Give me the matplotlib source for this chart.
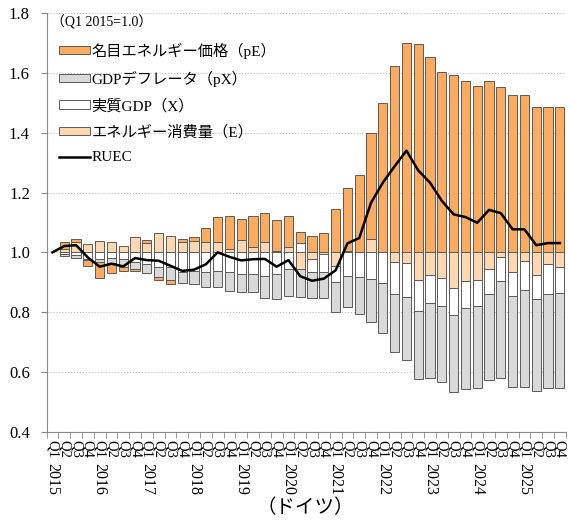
import numpy as np
import matplotlib
matplotlib.use("Agg")
import matplotlib.pyplot as plt
from matplotlib.patches import Patch
from matplotlib.lines import Line2D

plt.rcParams['font.family'] = ['Liberation Serif', 'Noto Sans CJK JP']

# quarters Q1 2015 .. Q4 2025
years = list(range(2015, 2026))
quarter_labels = ['Q1', 'Q2', 'Q3', 'Q4'] * len(years)

# contributions (deviation from 1.0)
p_energy = [0.000, 0.025, 0.009, -0.019, -0.053, -0.034, -0.014, -0.008,
            0.011, -0.011, -0.013, 0.009, 0.013, 0.048, 0.085, 0.110,
            0.070, 0.104, 0.096, 0.102, 0.103, 0.035, 0.056, 0.066,
            0.144, 0.211, 0.257, 0.356, 0.500, 0.622, 0.700, 0.696,
            0.652, 0.603, 0.594, 0.574, 0.555, 0.572, 0.552, 0.527,
            0.527, 0.486, 0.486, 0.486]
p_gdp = [0.000, -0.007, -0.010, -0.003, -0.011, -0.016, -0.028, -0.025,
         -0.030, -0.031, -0.042, -0.037, -0.045, -0.050, -0.052, -0.061,
         -0.058, -0.061, -0.075, -0.083, -0.091, -0.092, -0.084, -0.088,
         -0.102, -0.104, -0.125, -0.145, -0.170, -0.195, -0.212, -0.228,
         -0.249, -0.253, -0.259, -0.271, -0.275, -0.289, -0.322, -0.305,
         -0.325, -0.307, -0.315, -0.320]
real_gdp = [0.000, -0.005, -0.009, -0.022, -0.022, -0.020, -0.022, -0.031,
            -0.039, -0.050, -0.050, -0.067, -0.062, -0.067, -0.063, -0.067,
            -0.073, -0.073, -0.078, -0.073, -0.056, 0.032, -0.046, -0.060,
            -0.053, -0.078, -0.081, -0.089, -0.101, -0.107, -0.111, -0.102,
            -0.095, -0.094, -0.089, -0.088, -0.085, -0.082, -0.080, -0.080,
            -0.095, -0.080, -0.100, -0.085]
energy_use = [0.000, 0.010, 0.035, 0.027, 0.038, 0.035, 0.020, 0.050,
              0.031, 0.066, 0.055, 0.035, 0.039, 0.033, 0.033, 0.010,
              0.040, 0.018, 0.036, 0.005, 0.018, -0.056, -0.021, -0.005,
              -0.045, 0.003, 0.000, 0.044, 0.000, -0.032, -0.037, -0.093,
              -0.076, -0.087, -0.119, -0.097, -0.093, -0.057, -0.017, -0.065,
              -0.030, -0.075, -0.040, -0.050]
ruec = [1.000, 1.021, 1.024, 0.983, 0.952, 0.962, 0.953, 0.981,
        0.974, 0.972, 0.955, 0.938, 0.942, 0.960, 1.000, 0.985,
        0.973, 0.977, 0.978, 0.952, 0.974, 0.920, 0.905, 0.912,
        0.940, 1.030, 1.048, 1.166, 1.233, 1.288, 1.340, 1.274,
        1.233, 1.172, 1.127, 1.118, 1.099, 1.142, 1.131, 1.077,
        1.077, 1.024, 1.031, 1.031]

series = [
    ('エネルギー消費量（E）', energy_use, '#FFD8B1'),
    ('実質GDP（X）', real_gdp, '#FFFFFF'),
    ('GDPデフレータ（pX）', p_gdp, '#D9D9D9'),
    ('名目エネルギー価格（pE）', p_energy, '#FBAC60'),
]


def main():
    x = np.arange(len(quarter_labels))
    fig = plt.figure(figsize=(5.68, 5.24), dpi=100)
    ax = fig.add_axes([0.082, 0.176, 0.914, 0.799])

    # stack outward from 1.0, positives up and negatives down
    pos = np.ones(len(x))
    neg = np.ones(len(x))
    for name, vals, color in series:
        v = np.array(vals)
        bottom = np.where(v >= 0, pos, neg)
        m = v != 0
        ax.bar(x[m], v[m], 0.78, bottom=bottom[m], color=color,
               edgecolor='#5a5a5a', linewidth=0.7, zorder=2)
        pos = pos + np.clip(v, 0, None)
        neg = neg + np.clip(v, None, 0)

    ax.plot(x, ruec, color='black', lw=1.8, zorder=3)

    ax.set_xlim(-0.5, len(x) - 0.5)
    ax.set_ylim(0.4, 1.8)
    ticks = np.arange(0.4, 1.81, 0.2)
    ax.set_yticks(ticks)
    ax.set_yticklabels([f'{t:.1f}' for t in ticks], fontsize=12)
    ax.yaxis.grid(True, linestyle=':', color='#bbbbbb', lw=0.8)
    ax.set_axisbelow(True)

    ax.set_xticks(x)
    ax.set_xticklabels(quarter_labels, rotation=270, fontsize=10.5, va='top')
    ax.set_xticks(np.arange(-0.5, len(x), 1), minor=True)
    ax.tick_params(axis='x', which='major', length=0, pad=6)
    ax.tick_params(axis='x', which='minor', length=4, color='#888888')
    ax.tick_params(axis='y', length=4, color='#888888', pad=8)

    for k, yr in enumerate(years):
        ax.annotate(str(yr), xy=(4 * k, -0.074), xycoords=('data', 'axes fraction'),
                    rotation=270, ha='center', va='top', fontsize=11.5)

    for s in ['top', 'right']:
        ax.spines[s].set_visible(False)
    ax.spines['left'].set_color('#888888')
    ax.spines['bottom'].set_color('#888888')

    ax.text(0.008, 0.995, '（Q1 2015=1.0）', transform=ax.transAxes,
            fontsize=10, va='top', ha='left')

    handles = [Patch(facecolor=c, edgecolor='#5a5a5a', lw=0.7) for _, _, c in series[::-1]]
    labels = [n for n, _, _ in series[::-1]]
    handles.append(Line2D([], [], color='black', lw=1.8))
    labels.append('RUEC')
    ax.legend(handles, labels, loc='upper left', bbox_to_anchor=(0.01, 0.948),
              frameon=False, fontsize=11, borderpad=0, handlelength=2.0,
              handleheight=0.45, handletextpad=0.1, labelspacing=0.78)

    fig.text(0.537, 0.03, '（ドイツ）', ha='center', va='center', fontsize=14)

    fig.savefig('out.png', dpi=100)


if __name__ == "__main__":
    main()
